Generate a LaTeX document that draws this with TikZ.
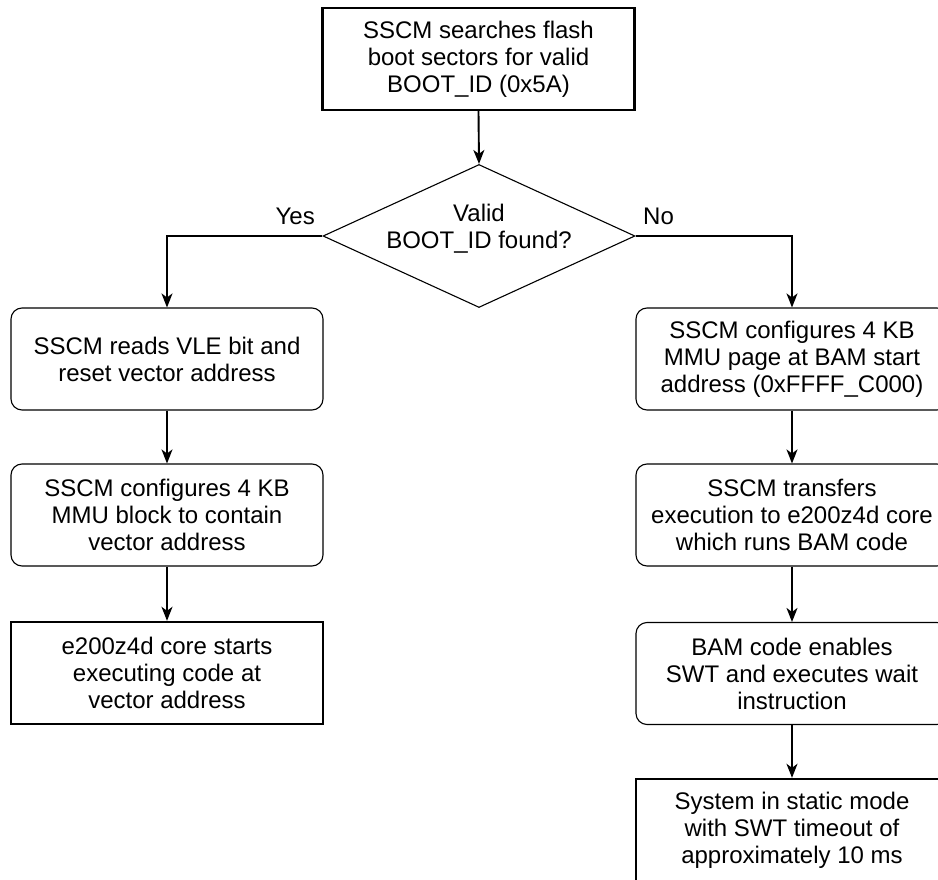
\documentclass[tikz,border=0pt]{standalone}
\usepackage{fontspec}
\setmainfont{Liberation Sans}
\usetikzlibrary{arrows.meta,shapes.geometric}
\begin{document}
\begin{tikzpicture}[x=1pt,y=-1pt,
  every node/.style={font=\fontsize{24}{27}\selectfont, align=center, inner sep=0pt},
  rectbox/.style={draw, line width=2.4pt, minimum width=312pt, minimum height=102pt},
  roundbox/.style={draw, line width=1.1pt, rounded corners=11pt, minimum width=312pt, minimum height=102pt},
  decbox/.style={draw, line width=1.1pt, shape=diamond, shape aspect=2.18, minimum width=312pt, minimum height=143pt},
  conn/.style={line width=1.9pt, -{Stealth[length=14pt,width=11pt,inset=4pt]}},
  lbl/.style={font=\fontsize{24}{27}\selectfont}]
\useasboundingbox (0,0) rectangle (938,880);
\clip (0,0) rectangle (938,880);
\node[rectbox] (top) at (478.5,59) {SSCM searches flash\\boot sectors for valid\\BOOT\_ID (0x5A)};
\node[decbox] (dec) at (479,236) {};
\node[anchor=center] (dectxt) at (479,229) {Valid\\BOOT\_ID found?};
\node[roundbox] (l1) at (167,359) {SSCM reads VLE bit and\\reset vector address};
\node[roundbox] (l2) at (167,515) {SSCM configures 4 KB\\MMU block to contain\\vector address};
\node[rectbox] (l3) at (167,673) {e200z4d core starts\\executing code at\\vector address};
\node[roundbox] (r1) at (792,359) {SSCM configures 4 KB\\MMU page at BAM start\\address (0xFFFF\_C000)};
\node[roundbox] (r2) at (792,515) {SSCM transfers\\execution to e200z4d core\\which runs BAM code};
\node[roundbox] (r3) at (792,673.5) {BAM code enables\\SWT and executes wait\\instruction};
\node[rectbox] (r4) at (792,830) {System in static mode\\with SWT timeout of\\approximately 10 ms};
\node[lbl, anchor=base east] (yes) at (315,225) {Yes};
\node[lbl, anchor=base west] (no) at (643,225) {No};
\draw[conn] (top.south) -- (dec.north);
\draw[conn] (dec.west) -| (l1.north);
\draw[conn] (dec.east) -| (r1.north);
\draw[conn] (l1.south) -- (l2.north);
\draw[conn] (l2.south) -- (l3.north);
\draw[conn] (r1.south) -- (r2.north);
\draw[conn] (r2.south) -- (r3.north);
\draw[conn] (r3.south) -- (r4.north);
\end{tikzpicture}
\end{document}
